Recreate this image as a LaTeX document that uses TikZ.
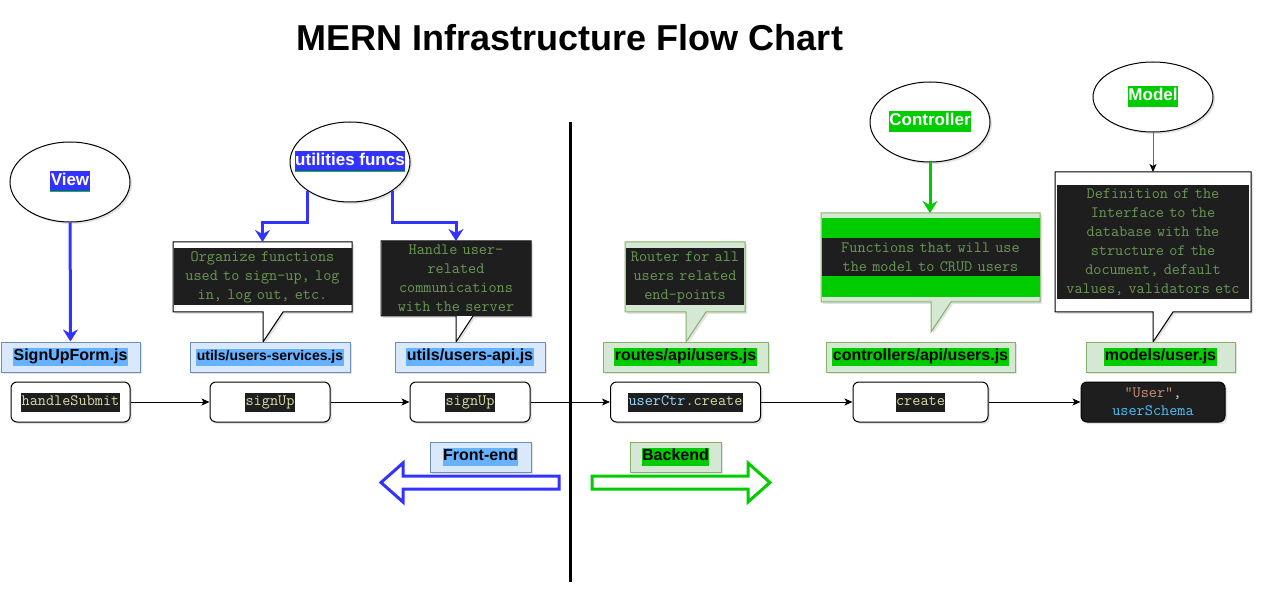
\documentclass[tikz,border=0pt]{standalone}
\usepackage{fontspec}
\setmainfont{Liberation Sans}
\usetikzlibrary{arrows.meta,positioning,calc,shadows,shapes.geometric}
\definecolor{wireblue}{HTML}{3333FF}
\definecolor{wiregreen}{HTML}{00CC00}
\definecolor{paleblue}{HTML}{DAE8FC}
\definecolor{edgeblue}{HTML}{6C8EBF}
\definecolor{palegreen}{HTML}{D5E8D4}
\definecolor{edgegreen}{HTML}{82B366}
\definecolor{markblue}{HTML}{66B2FF}
\definecolor{codebg}{HTML}{1E1E1E}
\definecolor{codecmt}{HTML}{6A9955}
\definecolor{codefn}{HTML}{DCDCAA}
\definecolor{codevar}{HTML}{9CDCFE}
\definecolor{codestr}{HTML}{CE9178}
\definecolor{codetype}{HTML}{4FC1FF}
\definecolor{codepunct}{HTML}{D4D4D4}
% highlighted texts
\newcommand{\filemark}[2]{{\setlength{\fboxsep}{0.5pt}\colorbox{#1}{\strut #2}}}
\newcommand{\codemark}[1]{{\setlength{\fboxsep}{0.5pt}\colorbox{codebg}{\strut #1}}}
\newcommand{\ovalmark}[1]{{\setlength{\fboxsep}{0.5pt}\colorbox{wiregreen}{\color{white}\strut #1}}}
\newcommand{\ovalmarkline}[1]{{\setlength{\fboxsep}{0.5pt}\sbox0{\colorbox{wireblue}{\color{white}\strut #1}}\usebox0\llap{\color{wiregreen}\rule[-\dp0]{\wd0}{1.2pt}}}}
\tikzset{
  softshadow/.style={drop shadow={shadow xshift=2pt,shadow yshift=-2pt,opacity=0.22}},
  titletext/.style={font=\fontsize{36}{40}\selectfont\bfseries},
  ovalnode/.style={
    ellipse,
    draw=black,
    fill=white,
    line width=1pt,
    minimum width=120pt,
    minimum height=80pt,
    inner sep=0pt,
    softshadow
  },
  ovallabel/.style={inner sep=0pt,font=\fontsize{17}{20}\selectfont\bfseries},
  fileblue/.style={
    rectangle,
    draw=edgeblue,
    fill=paleblue,
    line width=1pt,
    minimum height=30pt,
    inner sep=0pt,
    font=\fontsize{16}{17}\selectfont\bfseries,
    softshadow
  },
  filegreen/.style={fileblue,draw=edgegreen,fill=palegreen},
  fnbox/.style={
    rectangle,
    rounded corners=6pt,
    draw=black,
    fill=white,
    line width=1pt,
    minimum height=40pt,
    inner sep=0pt,
    font=\ttfamily\fontsize{15.8}{18}\selectfont,
    softshadow
  },
  noteframe/.style={rectangle,inner sep=0pt,outer sep=0pt},
  notewhite/.style={draw=black,fill=white,line width=1pt,softshadow},
  notegreen/.style={draw=edgegreen,fill=palegreen,line width=1pt,softshadow},
  codeblock/.style={fill=codebg,text=codecmt,inner sep=0pt,align=center,font=\ttfamily\fontsize{15.8}{19}\selectfont},
  flowwire/.style={-{Stealth[length=8pt,width=7pt,inset=2pt]},line width=1pt,draw=black},
  bluewire/.style={-{Stealth[length=12pt,width=15pt,inset=4pt]},line width=3pt,draw=wireblue},
  greenwire/.style={-{Stealth[length=12pt,width=15pt,inset=4pt]},line width=3pt,draw=wiregreen},
  greywire/.style={-{Stealth[length=8pt,width=7pt,inset=2pt,color=black]},line width=1pt,draw=black!60},
  bigarrow/.style={line width=3pt,fill=white,line join=miter}
}

\begin{document}
\begin{tikzpicture}[x=1pt,y=-1pt]
  \useasboundingbox (0,0) rectangle (1262,596);
  \node[titletext] (title) at (570,38) {MERN Infrastructure Flow Chart};

  % ovals
  \node[ovalnode, label={[ovallabel]center:\ovalmarkline{View}}] (view) at (70,182) {};
  \node[ovalnode, label={[ovallabel]center:\ovalmarkline{utilities funcs}}] (utilfn) at (350,162) {};
  \node[ovalnode, label={[ovallabel]center:\ovalmark{Controller}}] (ctrl) at (930,122) {};
  \node[ovalnode, minimum height=70pt, label={[ovallabel]center:\ovalmark{Model}}] (model) at (1153,97) {};

  % callouts
  \node[noteframe, minimum width=179pt, minimum height=70pt] (orgbox) at (262.5,277) {};
  \draw[notewhite] (orgbox.north west) -- (orgbox.north east) -- (orgbox.south east)
    -- ($(orgbox.south west)+(110,0)$) -- ($(orgbox.south west)+(90,30)$)
    -- ($(orgbox.south west)+(90,0)$) -- (orgbox.south west) -- cycle;
  \node[codeblock, text width=178pt, minimum height=57pt] (orgtext) at (orgbox.center)
    {Organize functions\\used to sign-up, log\\in, log out, etc.};

  \node[noteframe, minimum width=150pt, minimum height=75pt] (apibox) at (456,278.5) {};
  \draw[notewhite] (apibox.north west) -- (apibox.north east) -- (apibox.south east)
    -- ($(apibox.south west)+(92,0)$) -- ($(apibox.south west)+(75,26)$)
    -- ($(apibox.south west)+(75,0)$) -- (apibox.south west) -- cycle;
  \node[codeblock, text width=149pt, minimum height=75pt] (apitext) at (apibox.center)
    {Handle user-\\related\\communications\\with the server};

  \node[noteframe, minimum width=120pt, minimum height=70pt] (routebox) at (685,277) {};
  \draw[notegreen] (routebox.north west) -- (routebox.north east) -- (routebox.south east)
    -- ($(routebox.south west)+(81,0)$) -- ($(routebox.south west)+(61,30)$)
    -- ($(routebox.south west)+(61,0)$) -- (routebox.south west) -- cycle;
  \node[codeblock, text width=118pt, minimum height=57pt] (routetext) at (routebox.center)
    {Router for all\\users related\\end-points};

  \node[noteframe, minimum width=219pt, minimum height=89pt] (ctrlbox) at (930.5,257.5) {};
  \draw[notegreen] (ctrlbox.north west) -- (ctrlbox.north east) -- (ctrlbox.south east)
    -- ($(ctrlbox.south west)+(130,0)$) -- ($(ctrlbox.south west)+(110,30)$)
    -- ($(ctrlbox.south west)+(110,0)$) -- (ctrlbox.south west) -- cycle;
  \node[fill=wiregreen, inner sep=0pt, minimum width=218pt, minimum height=79pt] (ctrlband) at (ctrlbox.center) {};
  \node[codeblock, text width=218pt, minimum height=38pt] (ctrltext) at (ctrlbox.center)
    {Functions that will use\\the model to CRUD users};

  \node[noteframe, minimum width=196pt, minimum height=140pt] (modelbox) at (1153,242) {};
  \draw[notewhite] (modelbox.north west) -- (modelbox.north east) -- (modelbox.south east)
    -- ($(modelbox.south west)+(118,0)$) -- ($(modelbox.south west)+(98,30)$)
    -- ($(modelbox.south west)+(98,0)$) -- (modelbox.south west) -- cycle;
  \node[codeblock, text width=192pt, minimum height=114pt] (modeltext) at ($(modelbox.center)+(0,0.5)$)
    {Definition of the\\Interface to the\\database with the\\structure of the\\document, default\\values, validators etc};

  % file labels
  \node[fileblue, minimum width=139pt] (signupfile) at (70.5,357) {\filemark{markblue}{SignUpForm.js}};
  \node[fileblue, minimum width=160pt, font=\fontsize{14}{16}\selectfont\bfseries] (servfile) at (270,357) {\filemark{markblue}{utils/users-services.js}};
  \node[fileblue, minimum width=150pt] (apifile) at (470,357) {\filemark{markblue}{utils/users-api.js}};
  \node[filegreen, minimum width=165pt] (routefile) at (685.5,357) {\filemark{wiregreen}{routes/api/users.js}};
  \node[filegreen, minimum width=189pt] (ctrlfile) at (920.5,357) {\filemark{wiregreen}{controllers/api/users.js}};
  \node[filegreen, minimum width=149pt] (modelfile) at (1160.5,357) {\filemark{wiregreen}{models/user.js}};

  % functions
  \node[fnbox, minimum width=119pt] (submitfn) at (70.5,402) {\codemark{\textcolor{codefn}{handleSubmit}}};
  \node[fnbox, minimum width=120pt] (signupfn) at (270,402) {\codemark{\textcolor{codefn}{signUp}}};
  \node[fnbox, minimum width=120pt] (signupapi) at (470,402) {\codemark{\textcolor{codefn}{signUp}}};
  \node[fnbox, minimum width=150pt] (createroute) at (685.5,402) {\codemark{\textcolor{codevar}{userCtr}\textcolor{codepunct}{.}\textcolor{codefn}{create}}};
  \node[fnbox, minimum width=135pt] (createfn) at (920.5,402) {\codemark{\textcolor{codefn}{create}}};
  \node[fnbox, fill=codebg, minimum width=144pt, align=center] (schemafn) at (1153,402)
    {\textcolor{codestr}{"User"}\textcolor{codepunct}{,}\\\textcolor{codetype}{userSchema}};

  \foreach \a/\b in {submitfn/signupfn,signupfn/signupapi,signupapi/createroute,createroute/createfn,createfn/schemafn}
    \draw[flowwire] (\a) -- (\b);

  % oval connectors
  \draw[bluewire] (view) -- (signupfile);
  \draw[bluewire] (utilfn.214) -- ++(0,32) -| (orgbox.north);
  \draw[bluewire] (utilfn.326) -- ++(0,32) -| (apibox.north);
  \draw[greenwire] (ctrl) -- (ctrl |- ctrlbox.north);
  \draw[greywire] (model) -- (modelbox);

  % divider
  \draw[line width=3pt] (570,122) -- (570,582);

  % front-end / backend
  \node[fileblue, minimum width=101pt] (frontlbl) at (480.5,457) {\filemark{markblue}{Front-end}};
  \node[filegreen, minimum width=91pt] (backlbl) at (675.5,457) {\filemark{wiregreen}{Backend}};
  \draw[bigarrow, draw=wireblue] (559,476) -- (403,476) -- (403,463) -- (381,482.5)
    -- (403,502) -- (403,489) -- (559,489) -- cycle;
  \draw[bigarrow, draw=wiregreen] (592,476) -- (748,476) -- (748,463) -- (770,482.5)
    -- (748,502) -- (748,489) -- (592,489) -- cycle;
\end{tikzpicture}
\end{document}
